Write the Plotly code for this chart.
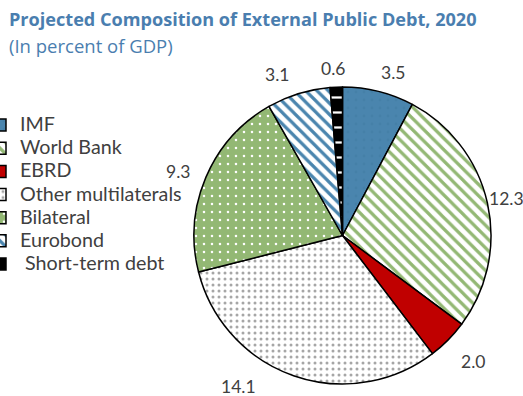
import math
import plotly.graph_objects as go

categories = ["IMF", "World Bank", "EBRD", "Other multilaterals", "Bilateral", "Eurobond", "Short-term debt"]
values = [3.5, 12.3, 2.0, 14.1, 9.3, 3.1, 0.6]
value_labels = ["3.5", "12.3", "2.0", "14.1", "9.3", "3.1", "0.6"]

W, H = 523, 396
CX, CY, R = 342.5, 235.5, 148.5
LR = 172
# pixel nudges for the value labels (style only)
label_nudge = [(9, 4), (-4, 1), (8, 5), (-47, -11), (-6, 3), (-15, 3), (-2, 5)]

patterns = [
    dict(shape=".", fgcolor="#4580A8", bgcolor="#4A85AE", size=8, solidity=0.1),
    dict(shape="\\", fgcolor="#93B874", bgcolor="white", size=8, solidity=0.4),
    dict(shape="", bgcolor="#C00000"),
    dict(shape=".", fgcolor="#A6A6A6", bgcolor="white", size=6, solidity=0.2),
    dict(shape=".", fgcolor="white", bgcolor="#93B874", size=8, solidity=0.08),
    dict(shape="\\", fgcolor="#4A85AE", bgcolor="white", size=8, solidity=0.4),
    dict(shape="-", fgcolor="white", bgcolor="black", size=15, solidity=0.15),
]
colors = ["#4A85AE", "#93B874", "#C00000", "white", "#93B874", "white", "black"]

# legend text drawn larger than the legend's line-spacing font (tight rows like the reference)
legend_prefix = ["", "", "", "", "", "", "&nbsp;"]
legend_labels = ['<span style="font-size:19.7px">%s%s</span>' % (p, c) for p, c in zip(legend_prefix, categories)]

fig = go.Figure(go.Pie(
    labels=legend_labels, values=values, sort=False, direction="clockwise", rotation=0,
    textinfo="none", customdata=categories, hovertemplate="%{customdata}: %{value}<extra></extra>",
    marker=dict(colors=colors, line=dict(color="black", width=1.5), pattern=dict(
        shape=[p.get("shape", "") for p in patterns],
        fgcolor=[p.get("fgcolor", "black") for p in patterns],
        bgcolor=[p.get("bgcolor", "white") for p in patterns],
        size=[p.get("size", 8) for p in patterns],
        solidity=[p.get("solidity", 0.3) for p in patterns],
        fillmode="replace")),
    domain=dict(x=[(CX - R) / W, (CX + R) / W], y=[1 - (CY + R) / H, 1 - (CY - R) / H]),
))

total = sum(values)
cum = 0
annotations = []
for v, t, (nx, ny) in zip(values, value_labels, label_nudge):
    ang = math.radians((cum + v / 2) / total * 360)
    cum += v
    xp = CX + LR * math.sin(ang) + nx
    yp = CY - LR * math.cos(ang) + ny
    annotations.append(dict(x=xp / W, y=1 - yp / H, xref="paper", yref="paper", text=t, showarrow=False,
                            font=dict(family="Lato", size=17.5, color="#404040"), xanchor="center", yanchor="middle"))

annotations.append(dict(x=7 / W, y=1 - 19 / H, xref="paper", yref="paper", xanchor="left", yanchor="middle",
                        text="<b>Projected Composition of External Public Debt, 2020</b>", showarrow=False,
                        font=dict(family="Open Sans", size=18.1, color="#4A7EAF")))
annotations.append(dict(x=7 / W, y=1 - 45 / H, xref="paper", yref="paper", xanchor="left", yanchor="middle",
                        text="(In percent of GDP)", showarrow=False,
                        font=dict(family="Open Sans", size=18.5, color="#4A7EAF")))

fig.update_layout(
    width=W, height=H, margin=dict(l=0, r=0, t=0, b=0, autoexpand=False),
    paper_bgcolor="white", plot_bgcolor="white",
    annotations=annotations,
    legend=dict(x=-20 / W, y=1 - 108.5 / H, xanchor="left", yanchor="top",
                font=dict(family="Lato", size=15.5, color="#404040"), bgcolor="rgba(0,0,0,0)"),
)
fig.write_html("out.html")
